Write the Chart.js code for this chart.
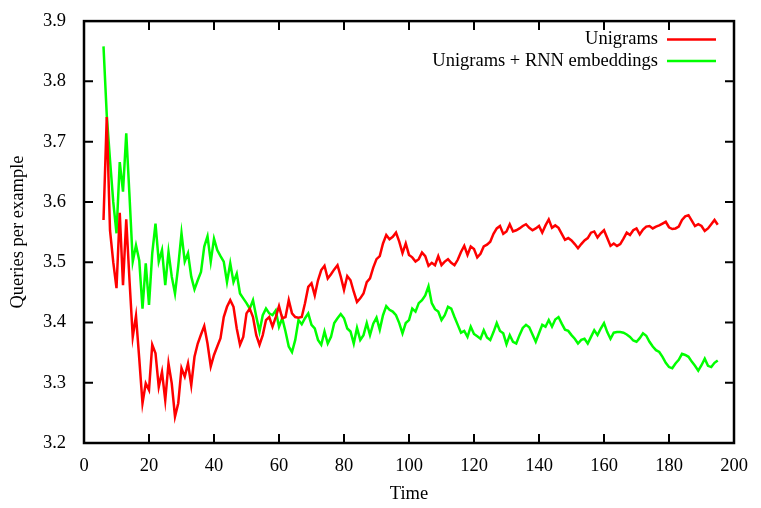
<!DOCTYPE html>
<html>
<head>
<meta charset="utf-8">
<script src="https://cdn.jsdelivr.net/npm/chart.js@4/dist/chart.umd.min.js"></script>
<style>
  body { margin: 0; background: #fff; }
  #wrap { width: 761px; height: 508px; }
</style>
</head>
<body>
<div id="wrap"><canvas id="chart" width="761" height="508"></canvas></div>
<script>
const timeSteps = [
	6, 7, 8, 9, 10, 11, 12, 13, 14, 15, 16, 17, 18, 19, 20, 21, 22, 23, 24, 25,
	26, 27, 28, 29, 30, 31, 32, 33, 34, 35, 36, 37, 38, 39, 40, 41, 42, 43, 44, 45,
	46, 47, 48, 49, 50, 51, 52, 53, 54, 55, 56, 57, 58, 59, 60, 61, 62, 63, 64, 65,
	66, 67, 68, 69, 70, 71, 72, 73, 74, 75, 76, 77, 78, 79, 80, 81, 82, 83, 84, 85,
	86, 87, 88, 89, 90, 91, 92, 93, 94, 95, 96, 97, 98, 99, 100, 101, 102, 103, 104, 105,
	106, 107, 108, 109, 110, 111, 112, 113, 114, 115, 116, 117, 118, 119, 120, 121, 122, 123, 124, 125,
	126, 127, 128, 129, 130, 131, 132, 133, 134, 135, 136, 137, 138, 139, 140, 141, 142, 143, 144, 145,
	146, 147, 148, 149, 150, 151, 152, 153, 154, 155, 156, 157, 158, 159, 160, 161, 162, 163, 164, 165,
	166, 167, 168, 169, 170, 171, 172, 173, 174, 175, 176, 177, 178, 179, 180, 181, 182, 183, 184, 185,
	186, 187, 188, 189, 190, 191, 192, 193, 194, 195
];

// Unigrams (red)
const unigrams = [
	3.570, 3.741, 3.553, 3.500, 3.457, 3.582, 3.462, 3.571, 3.470, 3.376,
	3.411, 3.340, 3.266, 3.299, 3.288, 3.363, 3.349, 3.293, 3.318, 3.271,
	3.332, 3.299, 3.244, 3.266, 3.324, 3.310, 3.332, 3.296, 3.343, 3.365,
	3.380, 3.394, 3.365, 3.327, 3.346, 3.360, 3.374, 3.409, 3.426, 3.437,
	3.426, 3.390, 3.363, 3.376, 3.415, 3.423, 3.409, 3.379, 3.363, 3.379,
	3.404, 3.409, 3.393, 3.409, 3.427, 3.407, 3.409, 3.437, 3.415, 3.409,
	3.408, 3.409, 3.432, 3.459, 3.465, 3.445, 3.470, 3.487, 3.494, 3.473,
	3.480, 3.488, 3.495, 3.476, 3.454, 3.477, 3.470, 3.451, 3.434, 3.440,
	3.448, 3.467, 3.473, 3.491, 3.505, 3.510, 3.531, 3.545, 3.538, 3.542,
	3.549, 3.534, 3.515, 3.531, 3.512, 3.508, 3.501, 3.505, 3.516, 3.510,
	3.494, 3.499, 3.495, 3.510, 3.495, 3.501, 3.505, 3.499, 3.495, 3.504,
	3.517, 3.527, 3.512, 3.526, 3.522, 3.508, 3.514, 3.526, 3.529, 3.534,
	3.547, 3.556, 3.560, 3.547, 3.551, 3.563, 3.551, 3.553, 3.556, 3.560,
	3.563, 3.557, 3.553, 3.556, 3.560, 3.549, 3.561, 3.571, 3.557, 3.561,
	3.557, 3.547, 3.537, 3.540, 3.536, 3.530, 3.523, 3.530, 3.536, 3.540,
	3.549, 3.551, 3.541, 3.548, 3.553, 3.540, 3.527, 3.531, 3.527, 3.530,
	3.539, 3.549, 3.545, 3.553, 3.556, 3.546, 3.554, 3.559, 3.560, 3.556,
	3.559, 3.561, 3.564, 3.567, 3.558, 3.555, 3.556, 3.559, 3.570, 3.576,
	3.578, 3.569, 3.560, 3.563, 3.560, 3.552, 3.556, 3.563, 3.570, 3.562
];

// Unigrams + RNN embeddings (green)
const unigramsRnn = [
	3.858, 3.744, 3.670, 3.600, 3.548, 3.666, 3.617, 3.714, 3.610, 3.501,
	3.528, 3.503, 3.423, 3.498, 3.429, 3.515, 3.564, 3.501, 3.520, 3.462,
	3.517, 3.476, 3.448, 3.494, 3.548, 3.501, 3.515, 3.476, 3.455, 3.470,
	3.484, 3.526, 3.543, 3.501, 3.539, 3.520, 3.510, 3.501, 3.467, 3.498,
	3.467, 3.481, 3.448, 3.440, 3.432, 3.423, 3.437, 3.410, 3.385, 3.412,
	3.423, 3.415, 3.412, 3.420, 3.393, 3.407, 3.385, 3.360, 3.351, 3.371,
	3.404, 3.397, 3.407, 3.415, 3.396, 3.390, 3.371, 3.363, 3.385, 3.365,
	3.376, 3.399, 3.407, 3.414, 3.407, 3.390, 3.385, 3.365, 3.391, 3.371,
	3.379, 3.399, 3.379, 3.398, 3.408, 3.388, 3.412, 3.427, 3.421, 3.418,
	3.412, 3.399, 3.382, 3.399, 3.404, 3.423, 3.418, 3.432, 3.437, 3.445,
	3.460, 3.432, 3.422, 3.418, 3.404, 3.412, 3.426, 3.423, 3.409, 3.396,
	3.383, 3.386, 3.376, 3.393, 3.381, 3.377, 3.373, 3.387, 3.375, 3.371,
	3.384, 3.399, 3.386, 3.382, 3.364, 3.379, 3.368, 3.365, 3.379, 3.391,
	3.396, 3.392, 3.380, 3.368, 3.382, 3.396, 3.393, 3.404, 3.393, 3.405,
	3.409, 3.398, 3.388, 3.386, 3.379, 3.373, 3.365, 3.371, 3.373, 3.365,
	3.376, 3.387, 3.379, 3.390, 3.399, 3.384, 3.373, 3.383, 3.384, 3.384,
	3.383, 3.380, 3.376, 3.370, 3.368, 3.374, 3.382, 3.378, 3.368, 3.360,
	3.354, 3.351, 3.343, 3.333, 3.326, 3.324, 3.332, 3.338, 3.348, 3.346,
	3.343, 3.335, 3.328, 3.320, 3.329, 3.340, 3.328, 3.326, 3.333, 3.337
];

const xTicks = [0, 20, 40, 60, 80, 100, 120, 140, 160, 180, 200];
const yTicks = [3.2, 3.3, 3.4, 3.5, 3.6, 3.7, 3.8, 3.9];

const FONT = "'Liberation Serif', 'Times New Roman', serif";
const FONT_SIZE = 18.5;

function toPoints(values) {
	return values.map((v, i) => ({ x: timeSteps[i], y: v }));
}

// frame with inward ticks on all four sides
const framePlugin = {
	id: 'frame',
	afterDraw(chart) {
		const ctx = chart.ctx;
		const a = chart.chartArea;
		const xs = chart.scales.x, ys = chart.scales.y;
		const len = 9;
		ctx.save();
		ctx.strokeStyle = '#000';
		ctx.lineWidth = 2;
		ctx.beginPath();
		xTicks.forEach(t => {
			const px = xs.getPixelForValue(t);
			ctx.moveTo(px, a.bottom); ctx.lineTo(px, a.bottom - len);
			ctx.moveTo(px, a.top); ctx.lineTo(px, a.top + len);
		});
		yTicks.forEach(t => {
			const py = ys.getPixelForValue(t);
			ctx.moveTo(a.left, py); ctx.lineTo(a.left + len, py);
			ctx.moveTo(a.right, py); ctx.lineTo(a.right - len, py);
		});
		ctx.stroke();
		ctx.lineWidth = 2.5;
		ctx.strokeRect(a.left, a.top, a.right - a.left, a.bottom - a.top);
		ctx.restore();
	}
};

// gnuplot style key: text first, then line sample
const keyPlugin = {
	id: 'key',
	afterDraw(chart) {
		const ctx = chart.ctx;
		const a = chart.chartArea;
		ctx.save();
		ctx.font = FONT_SIZE + 'px ' + FONT;
		ctx.textAlign = 'right';
		ctx.textBaseline = 'middle';
		chart.data.datasets.forEach((ds, i) => {
			const y = a.top + 18.5 + i * 21.5;
			ctx.fillStyle = '#000';
			ctx.fillText(ds.label, a.right - 76, y);
			ctx.strokeStyle = ds.borderColor;
			ctx.lineWidth = 2.5;
			ctx.beginPath();
			ctx.moveTo(a.right - 67, y);
			ctx.lineTo(a.right - 18, y);
			ctx.stroke();
		});
		ctx.restore();
	}
};

Chart.defaults.font.family = FONT;
Chart.defaults.font.size = FONT_SIZE;
Chart.defaults.color = '#000';

new Chart(document.getElementById('chart'), {
	type: 'line',
	data: {
		datasets: [
			{
				label: 'Unigrams',
				data: toPoints(unigrams),
				borderColor: '#ff0000',
				borderWidth: 2.5,
				pointRadius: 0,
				tension: 0,
				fill: false
			},
			{
				label: 'Unigrams + RNN embeddings',
				data: toPoints(unigramsRnn),
				borderColor: '#00ff00',
				borderWidth: 2.5,
				pointRadius: 0,
				tension: 0,
				fill: false
			}
		]
	},
	options: {
		responsive: false,
		animation: false,
		layout: { padding: { top: 21, right: 27, left: 0, bottom: 0 } },
		plugins: {
			legend: { display: false },
			tooltip: { enabled: false }
		},
		scales: {
			x: {
				type: 'linear',
				min: 0,
				max: 200,
				afterBuildTicks: s => { s.ticks = xTicks.map(v => ({ value: v })); },
				afterFit: s => { s.height = 65; },
				grid: { display: false },
				border: { display: false },
				ticks: { padding: 4, maxRotation: 0 },
				title: { display: true, text: 'Time', padding: { top: 0, bottom: 3 } }
			},
			y: {
				min: 3.2,
				max: 3.9,
				afterBuildTicks: s => { s.ticks = yTicks.map(v => ({ value: v })); },
				afterFit: s => { s.width = 84; },
				grid: { display: false },
				border: { display: false },
				ticks: { padding: 10, callback: v => v.toFixed(1) },
				title: { display: true, text: 'Queries per example', padding: { top: 7, bottom: 0 } }
			}
		}
	},
	plugins: [framePlugin, keyPlugin]
});
</script>
</body>
</html>
